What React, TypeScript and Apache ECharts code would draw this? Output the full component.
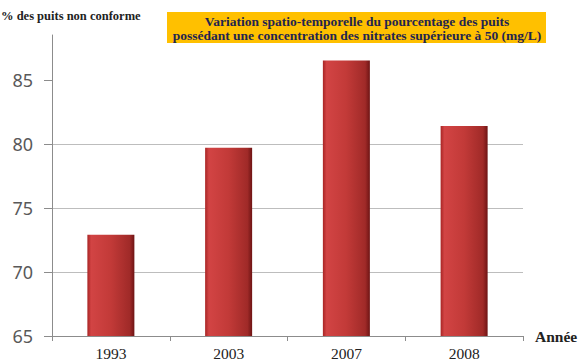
import React, { useEffect, useRef } from "react";
import * as echarts from "echarts";

const categories = ["1993", "2003", "2007", "2008"];
const values = [72.9, 79.7, 86.5, 81.4];
const yTicks = [65, 70, 75, 80, 85];
const titleLines = [
  "Variation spatio-temporelle du pourcentage des puits",
  "possédant une concentration des nitrates supérieure à 50 (mg/L)",
];
const yName = "% des puits non conforme";
const xName = "Année";

export default function App() {
  const ref = useRef<HTMLDivElement>(null);
  useEffect(() => {
    if (!ref.current) return;
    const chart = echarts.init(ref.current, null, { renderer: "svg" });
    const barColor = new echarts.graphic.LinearGradient(0, 0, 1, 0, [
      { offset: 0, color: "#a82525" },
      { offset: 0.08, color: "#d24444" },
      { offset: 0.5, color: "#c23a38" },
      { offset: 0.9, color: "#a02a28" },
      { offset: 1, color: "#6e1414" },
    ]);
    chart.setOption({
      animation: false,
      grid: { left: 52, right: 59, top: 35, bottom: 26 },
      xAxis: {
        type: "category",
        data: categories,
        name: xName,
        nameLocation: "end",
        nameGap: 12,
        nameTextStyle: {
          fontFamily: "Liberation Serif",
          fontWeight: "bold",
          fontSize: 15.5,
          color: "#222",
          verticalAlign: "middle",
          padding: [0, 0, 6, 0],
        },
        axisLine: { lineStyle: { color: "#8c8c8c", width: 1 } },
        axisTick: { show: true, length: 5, lineStyle: { color: "#8c8c8c" } },
        axisLabel: {
          fontFamily: "Liberation Serif",
          fontSize: 15.5,
          color: "#222",
          margin: 9,
        },
      },
      yAxis: {
        type: "value",
        min: 65,
        max: 88.5,
        interval: 5,
        axisLine: { show: true, lineStyle: { color: "#8c8c8c", width: 1 } },
        axisTick: {
          show: true,
          length: 8,
          customValues: yTicks,
          lineStyle: { color: "#8c8c8c" },
        },
        axisLabel: {
          customValues: yTicks,
          fontFamily: "Noto Sans",
          fontSize: 18,
          color: "#595959",
          margin: 19,
        },
        splitLine: {
          show: true,
          showMaxLine: false,
          lineStyle: { color: "#bdbdbd", width: 1 },
        },
      },
      graphic: [
        {
          type: "rect",
          shape: { x: 167, y: 12, width: 379, height: 31 },
          style: { fill: "#FFC000" },
        },
        {
          type: "text",
          x: 357,
          y: 21,
          style: {
            text: titleLines[0],
            fontFamily: "Liberation Serif",
            fontWeight: "bold",
            fontSize: 13.5,
            fill: "#1f2550",
            align: "center",
            verticalAlign: "middle",
          },
        },
        {
          type: "text",
          x: 357,
          y: 35,
          style: {
            text: titleLines[1],
            fontFamily: "Liberation Serif",
            fontWeight: "bold",
            fontSize: 13.5,
            fill: "#1f2550",
            align: "center",
            verticalAlign: "middle",
          },
        },
        {
          type: "text",
          x: 1,
          y: 16,
          style: {
            text: yName,
            fontFamily: "Liberation Serif",
            fontWeight: "bold",
            fontSize: 12.5,
            fill: "#222",
            align: "left",
            verticalAlign: "middle",
          },
        },
      ],
      series: [
        {
          type: "bar",
          data: values,
          barWidth: 47,
          itemStyle: { color: barColor },
        },
      ],
    });
    return () => chart.dispose();
  }, []);
  return <div ref={ref} style={{ width: 582, height: 362, position: "absolute", left: 0, top: 0 }} />;
}
